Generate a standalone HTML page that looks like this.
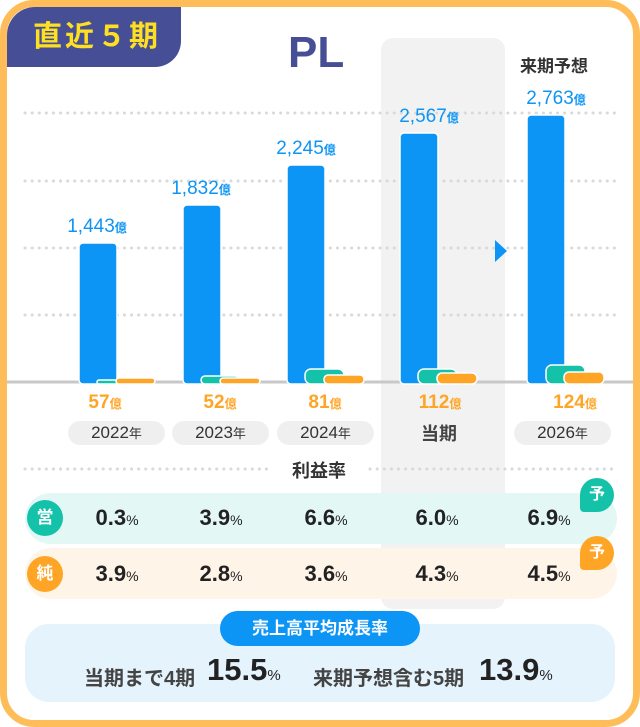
<!DOCTYPE html>
<html><head><meta charset="utf-8"><style>
*{margin:0;padding:0;box-sizing:border-box}
body{width:640px;height:727px;background:#fff;position:relative;overflow:hidden;font-family:"Liberation Sans","Noto Sans CJK JP",sans-serif}
.a{position:absolute}
.frame{left:0;top:0;width:640px;height:727px;border:7px solid #ffbd59;border-radius:34px}
.tab{left:7px;top:7px;width:174px;height:60px;background:#464f96;border-bottom-right-radius:26px;border-top-left-radius:28px;color:#ffe020;font-weight:bold;font-size:29px;line-height:60px;padding-left:26px;letter-spacing:3px}
.pl{left:288px;top:28px;font-size:44px;font-weight:bold;color:#464f96}
.col{left:381px;top:38px;width:124px;height:571px;background:#f2f2f2;border-radius:12px}
.bl{color:#0d95f5;font-size:19px;text-align:center;width:120px}
.bl small,.ol small{font-size:12px;font-weight:bold}
.ol{color:#ffa526;font-weight:bold;font-size:19px;text-align:center;width:100px}
.pill{top:421px;height:24px;background:#efefef;border-radius:12px;text-align:center;font-size:17px;color:#333;line-height:24px;width:97px}
.pill small{font-size:13px}
.row{left:25px;width:592px;border-radius:26px}
.c{width:36px;height:36px;border-radius:18px;color:#fff;font-weight:bold;font-size:17px;text-align:center;line-height:36px}
.v{font-size:22px;font-weight:bold;color:#222;width:90px;text-align:center}
.v small{font-size:14px;font-weight:normal}
.bd{width:34px;height:34px;border-radius:17px;color:#fff;font-weight:bold;font-size:16px;text-align:center;line-height:34px}
.bt{top:662px;font-size:20px;font-weight:bold;color:#444;white-space:nowrap}
.bn{top:652px;font-size:31px;font-weight:bold;color:#222;white-space:nowrap}
.bn small{font-size:15px;font-weight:normal}
</style></head><body>
<div class="a col"></div>
<svg class="a" style="left:0;top:0" width="640" height="727">
<g stroke="#d9d9d9" stroke-width="3" stroke-dasharray="0.1 7" stroke-linecap="round">
<line x1="25" y1="113" x2="615" y2="113"/><line x1="25" y1="181" x2="615" y2="181"/>
<line x1="25" y1="248" x2="615" y2="248"/><line x1="25" y1="315" x2="615" y2="315"/>
<line x1="25" y1="469" x2="270" y2="469"/><line x1="370" y1="469" x2="615" y2="469"/>
</g>
<line x1="7" y1="382" x2="633" y2="382" stroke="#c8c8c8" stroke-width="3"/>
<g fill="#0d95f5" stroke="#fff" stroke-width="1.5">
<rect x="79" y="243" width="38" height="141" rx="4"/>
<rect x="183" y="205" width="38" height="179" rx="4"/>
<rect x="287" y="165" width="38" height="219" rx="4"/>
<rect x="400" y="133" width="38" height="251" rx="4"/>
<rect x="527" y="115" width="38" height="269" rx="4"/>
</g>
<g fill="#13c2a8" stroke="#fff" stroke-width="1.5">
<rect x="97" y="380" width="38" height="4" rx="2"/>
<rect x="201" y="376" width="38" height="8" rx="4"/>
<rect x="305" y="369" width="39" height="15" rx="6"/>
<rect x="418" y="369" width="39" height="15" rx="6"/>
<rect x="546" y="365" width="39" height="19" rx="6"/>
</g>
<g fill="#ffa526" stroke="#fff" stroke-width="1.5">
<rect x="116" y="378" width="39" height="6" rx="3"/>
<rect x="220" y="378" width="40" height="6" rx="3"/>
<rect x="324" y="375" width="40" height="9" rx="4"/>
<rect x="437" y="373" width="40" height="11" rx="5"/>
<rect x="564" y="372" width="40" height="12" rx="5"/>
</g>
<polygon points="495,240 507,251 495,262" fill="#0d95f5"/>
</svg>
<div class="a frame"></div>
<div class="a tab">直近５期</div>
<div class="a pl">PL</div>
<div class="a" style="left:520px;top:52px;font-size:17px;font-weight:bold;color:#333">来期予想</div>
<div class="a bl" style="left:37px;top:216px">1,443<small>億</small></div>
<div class="a bl" style="left:141px;top:178px">1,832<small>億</small></div>
<div class="a bl" style="left:246px;top:138px">2,245<small>億</small></div>
<div class="a bl" style="left:369px;top:106px">2,567<small>億</small></div>
<div class="a bl" style="left:496px;top:88px">2,763<small>億</small></div>
<div class="a ol" style="left:55px;top:392px">57<small>億</small></div>
<div class="a ol" style="left:170px;top:392px">52<small>億</small></div>
<div class="a ol" style="left:275px;top:392px">81<small>億</small></div>
<div class="a ol" style="left:390px;top:392px">112<small>億</small></div>
<div class="a ol" style="left:525px;top:392px">124<small>億</small></div>
<div class="a pill" style="left:68px">2022<small>年</small></div>
<div class="a pill" style="left:172px">2023<small>年</small></div>
<div class="a pill" style="left:277px">2024<small>年</small></div>
<div class="a" style="left:421px;top:420px;font-size:18px;font-weight:bold;color:#444">当期</div>
<div class="a pill" style="left:514px">2026<small>年</small></div>
<div class="a" style="left:288px;top:457px;font-size:18px;font-weight:bold;color:#333;background:#fff;padding:0 4px">利益率</div>
<div class="a row" style="top:493px;height:51px;background:#e3f7f4"></div>
<div class="a row" style="top:548px;height:51px;background:#fff4e8"></div>
<div class="a c" style="left:27px;top:500px;background:#13c2a8">営</div>
<div class="a c" style="left:27px;top:556px;background:#ffa526">純</div>
<div class="a v" style="left:72px;top:505px">0.3<small>%</small></div>
<div class="a v" style="left:176px;top:505px">3.9<small>%</small></div>
<div class="a v" style="left:281px;top:505px">6.6<small>%</small></div>
<div class="a v" style="left:392px;top:505px">6.0<small>%</small></div>
<div class="a v" style="left:504px;top:505px">6.9<small>%</small></div>
<div class="a v" style="left:72px;top:561px">3.9<small>%</small></div>
<div class="a v" style="left:176px;top:561px">2.8<small>%</small></div>
<div class="a v" style="left:281px;top:561px">3.6<small>%</small></div>
<div class="a v" style="left:392px;top:561px">4.3<small>%</small></div>
<div class="a v" style="left:504px;top:561px">4.5<small>%</small></div>
<div class="a bd" style="left:580px;top:478px;background:#13c2a8;border-bottom-left-radius:4px">予</div>
<div class="a bd" style="left:580px;top:536px;background:#ffa526;border-bottom-left-radius:4px">予</div>
<div class="a" style="left:25px;top:624px;width:590px;height:78px;background:#e5f3fd;border-radius:24px"></div>
<div class="a" style="left:220px;top:611px;width:200px;height:35px;background:#0d95f5;border-radius:18px;color:#fff;font-weight:bold;font-size:17px;text-align:center;line-height:35px">売上高平均成長率</div>
<div class="a bt" style="left:84px">当期まで4期</div>
<div class="a bn" style="left:207px">15.5<small>%</small></div>
<div class="a bt" style="left:313px">来期予想含む5期</div>
<div class="a bn" style="left:479px">13.9<small>%</small></div>
</body></html>
